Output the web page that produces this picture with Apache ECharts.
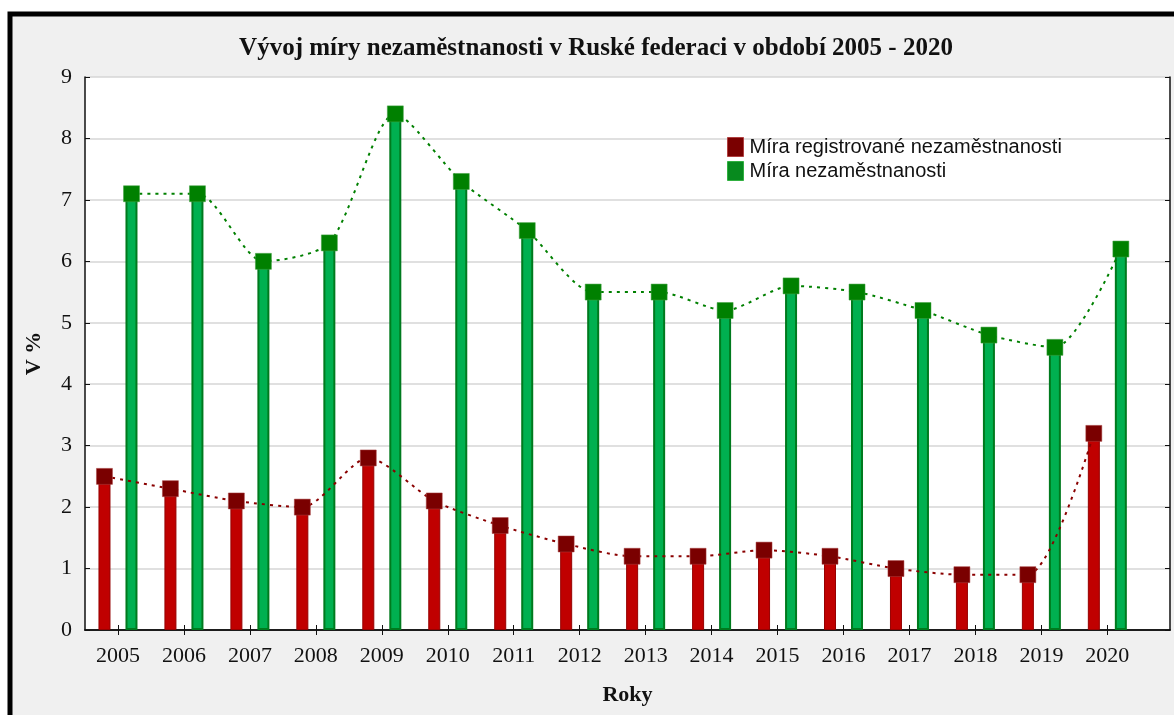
<!DOCTYPE html>
<html lang="cs">
<head>
    <meta charset="UTF-8">
    <title>Vývoj míry nezaměstnanosti</title>
    <script src="https://cdn.jsdelivr.net/npm/echarts@6/dist/echarts.min.js"></script>
    <style>
        html, body { margin: 0; padding: 0; background: #fff; }
    </style>
</head>
<body>
<div id="myChart" style="width: 1174px;height: 715px"></div>
<script>
    // data
    var years = [2005, 2006, 2007, 2008, 2009, 2010, 2011, 2012, 2013, 2014, 2015, 2016, 2017, 2018, 2019, 2020];
    var registered = [2.5, 2.3, 2.1, 2.0, 2.8, 2.1, 1.7, 1.4, 1.2, 1.2, 1.3, 1.2, 1.0, 0.9, 0.9, 3.2];
    var unemployment = [7.1, 7.1, 6.0, 6.3, 8.4, 7.3, 6.5, 5.5, 5.5, 5.2, 5.6, 5.5, 5.2, 4.8, 4.6, 6.2];

    var nameReg = 'Míra registrované nezaměstnanosti';
    var nameUnemp = 'Míra nezaměstnanosti';

    // bar halves sit this far (in years) left / right of the year
    var shift = 0.205;

    function pairs(vals, dx) {
        return years.map(function (y, i) { return [y + dx, vals[i]]; });
    }

    var serif = 'Liberation Serif';
    var axisLine = { show: true, lineStyle: { color: '#111', width: 1.5 } };

    var myChart = echarts.init(document.getElementById('myChart'));
    myChart.setOption({
        animation: false,
        backgroundColor: '#fff',
        graphic: [{
            type: 'rect',
            z: -10,
            shape: { x: 10, y: 14, width: 1200, height: 760 },
            style: { fill: '#f0f0f0', stroke: '#000', lineWidth: 5 }
        }],
        title: {
            text: 'Vývoj míry nezaměstnanosti v Ruské federaci v období 2005 - 2020',
            left: 591,
            top: 31,
            textAlign: 'center',
            textStyle: { fontFamily: serif, fontSize: 25, fontWeight: 'bold', color: '#111' }
        },
        legend: {
            orient: 'vertical',
            left: 727,
            top: 137,
            padding: 0,
            itemWidth: 16,
            itemHeight: 19,
            itemGap: 4,
            icon: 'rect',
            data: [
                { name: nameReg, itemStyle: { color: '#7a0000', borderColor: '#b04040', borderWidth: 1 } },
                { name: nameUnemp, itemStyle: { color: '#078a1e', borderColor: '#30b040', borderWidth: 1 } }
            ],
            textStyle: { fontFamily: 'Liberation Sans', fontSize: 20, color: '#111', padding: [0, 0, 0, 1] }
        },
        grid: {
            left: 85,
            right: 4,
            top: 77,
            bottom: 85,
            show: true,
            backgroundColor: '#fff',
            borderWidth: 0
        },
        xAxis: [{
            type: 'value',
            position: 'bottom',
            min: 2004.5,
            max: 2020.95,
            name: 'Roky',
            nameLocation: 'middle',
            nameGap: 54,
            nameTextStyle: { fontFamily: serif, fontSize: 22, fontWeight: 'bold', color: '#111' },
            axisLine: axisLine,
            axisTick: { inside: true, length: 5, customValues: years, lineStyle: { color: '#111' } },
            axisLabel: {
                customValues: years, margin: 15, fontFamily: serif, fontSize: 22, color: '#111',
                formatter: function (v) { return String(v); }
            },
            splitLine: { show: false }
        }, {
            type: 'value',
            position: 'top',
            min: 2004.5,
            max: 2020.95,
            axisLine: axisLine,
            axisTick: { inside: true, length: 5, customValues: years, lineStyle: { color: '#111' } },
            axisLabel: { show: false },
            splitLine: { show: false }
        }],
        yAxis: [{
            type: 'value',
            min: 0,
            max: 9,
            interval: 1,
            name: 'V %',
            nameLocation: 'middle',
            nameGap: 40,
            nameTextStyle: { fontFamily: serif, fontSize: 22, fontWeight: 'bold', color: '#111' },
            axisLine: axisLine,
            axisTick: { inside: true, length: 5, lineStyle: { color: '#111' } },
            axisLabel: { margin: 13, fontFamily: serif, fontSize: 22, color: '#111' },
            splitLine: { show: true, lineStyle: { color: '#d6d6d6', width: 1.5 } }
        }, {
            type: 'value',
            position: 'right',
            min: 0,
            max: 9,
            interval: 1,
            axisLine: axisLine,
            axisTick: { inside: true, length: 5, lineStyle: { color: '#111' } },
            axisLabel: { show: false },
            splitLine: { show: false }
        }],
        series: [{
            name: nameReg,
            type: 'bar',
            data: pairs(registered, 0),
            barWidth: 12,
            barGap: '125%',
            itemStyle: { color: '#c00000', borderColor: '#960000', borderWidth: 1 }
        }, {
            name: nameUnemp,
            type: 'bar',
            data: pairs(unemployment, 0),
            barWidth: 12,
            itemStyle: { color: '#00b050', borderColor: '#007a1e', borderWidth: 2 }
        }, {
            name: nameReg,
            type: 'line',
            data: pairs(registered, -shift),
            smooth: 0.25,
            symbol: 'rect',
            symbolSize: 16,
            itemStyle: { color: '#7a0000', borderColor: '#a84040', borderWidth: 0.5 },
            lineStyle: { color: '#8a0000', width: 2, type: [3, 5] },
            z: 3
        }, {
            name: nameUnemp,
            type: 'line',
            data: pairs(unemployment, shift),
            smooth: 0.25,
            symbol: 'rect',
            symbolSize: 16,
            itemStyle: { color: '#008000', borderColor: '#40a040', borderWidth: 0.5 },
            lineStyle: { color: '#008000', width: 2, type: [3, 5] },
            z: 3
        }]
    });
</script>
</body>
</html>
